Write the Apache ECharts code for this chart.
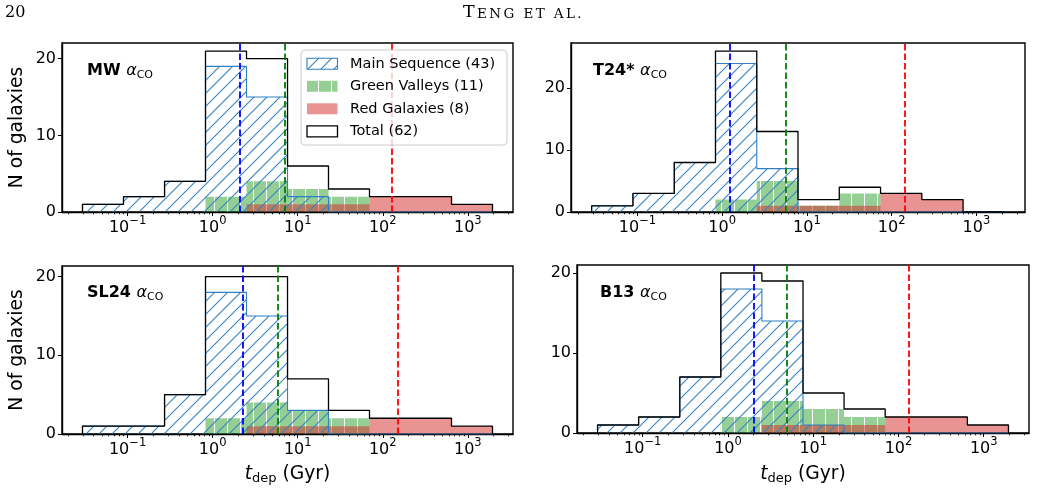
<!DOCTYPE html>
<html>
<head>
<meta charset="utf-8">
<script src="https://cdn.jsdelivr.net/npm/echarts@6/dist/echarts.min.js"></script>
<style>
  html, body { margin: 0; padding: 0; background: #fff; }
  #chart { width: 1040px; height: 495px; }
</style>
</head>
<body>
<div id="chart"></div>
<script>
// 各面板的分箱边界 (Gyr)
const edgesA = [0.0295, 0.0895, 0.272, 0.824, 2.50, 7.59, 23.0, 69.8, 212, 643, 1950];
const edgesT24 = [0.0288, 0.0885, 0.272, 0.834, 2.56, 7.85, 24.1, 74.0, 227, 697, 2140];

// 每个分箱的星系数
const mwTotal = [1, 2, 4, 21, 20, 6, 3, 2, 2, 1];
const mwMS    = [1, 2, 4, 19, 15, 2, 0, 0, 0, 0];
const mwGV    = [0, 0, 0, 2, 4, 3, 2, 0, 0, 0];
const mwRed   = [0, 0, 0, 0, 1, 1, 1, 2, 2, 1];

const t24Total = [1, 3, 8, 26, 13, 2, 4, 3, 2, 0];
const t24MS    = [1, 3, 8, 24, 7, 0, 0, 0, 0, 0];
const t24GV    = [0, 0, 0, 2, 5, 1, 3, 0, 0, 0];
const t24Red   = [0, 0, 0, 0, 1, 1, 1, 3, 2, 0];

const sl24Total = [1, 1, 5, 20, 20, 7, 3, 2, 2, 1];
const sl24MS    = [1, 1, 5, 18, 15, 3, 0, 0, 0, 0];
const sl24GV    = [0, 0, 0, 2, 4, 3, 2, 0, 0, 0];
const sl24Red   = [0, 0, 0, 0, 1, 1, 1, 2, 2, 1];

const b13Total = [1, 2, 7, 20, 19, 5, 3, 2, 2, 1];
const b13MS    = [1, 2, 7, 18, 14, 1, 0, 0, 0, 0];
const b13GV    = [0, 0, 0, 2, 4, 3, 2, 0, 0, 0];
const b13Red   = [0, 0, 0, 0, 1, 1, 1, 2, 2, 1];

// 中位数：主序 / 绿谷 / 红星系
const mwMed   = [2.1, 7.1, 129];
const t24Med  = [1.23, 5.7, 142];
const sl24Med = [2.24, 5.9, 149];
const b13Med  = [2.0, 4.9, 132];

const xMajor = [0.1, 1, 10, 100, 1000];
const yMajor = [0, 10, 20];
const legendNames = ['Main Sequence (43)', 'Green Valleys (11)', 'Red Galaxies (8)', 'Total (62)'];

const FONT = '"DejaVu Sans", sans-serif';
const SERIF = '"DejaVu Serif", serif';
const medColors = ['#0000ff', '#008000', '#ff0000'];

const panels = [
  { label: 'MW', edges: edgesA, total: mwTotal, ms: mwMS, gv: mwGV, red: mwRed, med: mwMed, ymax: 22.05,
    grid: { left: 62, top: 43, width: 451, height: 169 }, lx: 87, ly: 71 },
  { label: 'T24*', edges: edgesT24, total: t24Total, ms: t24MS, gv: t24GV, red: t24Red, med: t24Med, ymax: 27.3,
    grid: { left: 571, top: 43, width: 454, height: 169 }, lx: 593, ly: 71 },
  { label: 'SL24', edges: edgesA, total: sl24Total, ms: sl24MS, gv: sl24GV, red: sl24Red, med: sl24Med, ymax: 21.35,
    grid: { left: 62, top: 266, width: 451, height: 168 }, lx: 87, ly: 293 },
  { label: 'B13', edges: edgesA, total: b13Total, ms: b13MS, gv: b13GV, red: b13Red, med: b13Med, ymax: 21,
    grid: { left: 577, top: 265, width: 452, height: 168 }, lx: 600, ly: 293 }
];

// 斜线填充 (//)
function hatchTile() {
  const s = 13;
  const c = document.createElement('canvas');
  c.width = s; c.height = s;
  const ctx = c.getContext('2d');
  ctx.strokeStyle = '#3584c4';
  ctx.lineWidth = 1.1;
  ctx.beginPath();
  ctx.moveTo(-2, s + 2); ctx.lineTo(s + 2, -2);
  ctx.moveTo(-2, 2); ctx.lineTo(2, -2);
  ctx.moveTo(s - 2, s + 2); ctx.lineTo(s + 2, s - 2);
  ctx.stroke();
  return c;
}

// 绿色 + 白色竖线
function greenTile() {
  const w = 13, h = 4;
  const c = document.createElement('canvas');
  c.width = w; c.height = h;
  const ctx = c.getContext('2d');
  ctx.fillStyle = 'rgba(44,160,44,0.5)';
  ctx.fillRect(0, 0, w, h);
  ctx.clearRect(6, 0, 1, h);
  ctx.fillStyle = 'rgba(255,255,255,0.45)';
  ctx.fillRect(6, 0, 1, h);
  return c;
}

const hatch = { image: hatchTile(), repeat: 'repeat' };
const green = { image: greenTile(), repeat: 'repeat' };
const redFill = 'rgba(214,39,40,0.5)';

function stepData(edges, counts) {
  const d = [[edges[0], 0]];
  counts.forEach((c, i) => d.push([edges[i], c]));
  d.push([edges[edges.length - 1], counts[counts.length - 1]]);
  d.push([edges[edges.length - 1], 0]);
  return d;
}

function xlim(edges) {
  const lo = Math.log10(edges[0]);
  const hi = Math.log10(edges[edges.length - 1]);
  const m = (hi - lo) * 0.05;
  return [Math.pow(10, lo - m), Math.pow(10, hi + m)];
}

const minorTicks = [];
for (let e = -2; e <= 3; e++) {
  for (let k = 2; k <= 9; k++) minorTicks.push(k * Math.pow(10, e));
}

const grids = [], xAxes = [], yAxes = [], series = [], graphics = [];

panels.forEach((p, i) => {
  const [xmin, xmax] = xlim(p.edges);
  grids.push(Object.assign({ show: true, borderColor: '#000', borderWidth: 1.4, outerBoundsMode: 'none', containLabel: false }, p.grid));

  xAxes.push({
    type: 'log', logBase: 10, gridIndex: i, min: xmin, max: xmax, position: 'bottom', z: 3,
    axisLine: { show: true, onZero: false, lineStyle: { color: '#000', width: 1.4 } },
    axisTick: { show: true, length: 4, customValues: xMajor, lineStyle: { color: '#000', width: 1 } },
    axisLabel: {
      customValues: xMajor, margin: 3,
      formatter: v => {
        const e = Math.round(Math.log10(v));
        return '{b|10}{s|' + (e < 0 ? '\u2212' + (-e) : e) + '}';
      },
      rich: {
        b: { fontFamily: FONT, fontSize: 16, lineHeight: 26, color: '#000', verticalAlign: 'middle' },
        s: { fontFamily: FONT, fontSize: 11.5, lineHeight: 11, color: '#000', verticalAlign: 'top' }
      }
    },
    splitLine: { show: false }
  });
  xAxes.push({
    type: 'log', logBase: 10, gridIndex: i, min: xmin, max: xmax, position: 'bottom', z: 3,
    axisLine: { show: false },
    axisTick: { show: true, length: 2.3, customValues: minorTicks, lineStyle: { color: '#000', width: 0.9 } },
    axisLabel: { show: false },
    splitLine: { show: false }
  });
  yAxes.push({
    type: 'value', gridIndex: i, min: 0, max: p.ymax, z: 3,
    axisLine: { show: true, onZero: false, lineStyle: { color: '#000', width: 1.4 } },
    axisTick: { show: true, length: 4, customValues: yMajor, lineStyle: { color: '#000', width: 1 } },
    axisLabel: { customValues: yMajor, fontFamily: FONT, fontSize: 16, color: '#000', margin: 6 },
    splitLine: { show: false }
  });

  const base = { type: 'line', xAxisIndex: 2 * i, yAxisIndex: i, step: 'end', symbol: 'none', silent: true, animation: false };
  series.push(Object.assign({}, base, {
    name: 'gv' + i, data: stepData(p.edges, p.gv),
    lineStyle: { width: 0, opacity: 0 }, areaStyle: { color: green, opacity: 1 }
  }));
  series.push(Object.assign({}, base, {
    name: 'red' + i, data: stepData(p.edges, p.red),
    lineStyle: { width: 0, opacity: 0 }, areaStyle: { color: redFill, opacity: 1 }
  }));
  series.push(Object.assign({}, base, {
    name: 'ms' + i, data: stepData(p.edges, p.ms),
    lineStyle: { color: '#2f7fc1', width: 1.1 }, areaStyle: { color: hatch, opacity: 1 }
  }));
  series.push(Object.assign({}, base, {
    name: 'total' + i, data: stepData(p.edges, p.total),
    lineStyle: { color: '#000', width: 1.3 },
    markLine: {
      silent: true, symbol: ['none', 'none'], animation: false, label: { show: false },
      data: p.med.map((m, k) => ({ xAxis: m, lineStyle: { color: medColors[k], type: [6.5, 3], width: 1.8 } }))
    }
  }));

  // 面板标签
  graphics.push({
    type: 'text', z: 20,
    style: {
      x: p.lx, y: p.ly, verticalAlign: 'middle', align: 'left',
      text: '{b|' + p.label + ' }{a|\u03b1}{s|CO}',
      rich: {
        b: { fontFamily: FONT, fontSize: 16, fontWeight: 'bold', lineHeight: 20, fill: '#000', verticalAlign: 'middle' },
        a: { fontFamily: FONT, fontSize: 16, fontStyle: 'italic', lineHeight: 20, fill: '#000', verticalAlign: 'middle' },
        s: { fontFamily: FONT, fontSize: 11, lineHeight: 11, fill: '#000', verticalAlign: 'bottom' }
      }
    }
  });
});

// y 轴标题
[127.5, 350].forEach(cy => {
  graphics.push({
    type: 'text', x: 17, y: cy, rotation: Math.PI / 2, z: 20,
    style: { text: 'N of galaxies', fontFamily: FONT, fontSize: 18.7, fill: '#000', align: 'center', verticalAlign: 'middle' }
  });
});

// x 轴标题
[287.5, 803].forEach(cx => {
  graphics.push({
    type: 'text', z: 20,
    style: {
      x: cx, y: 474, align: 'center', verticalAlign: 'middle',
      text: '{t|t}{s|dep}{n| (Gyr)}',
      rich: {
        t: { fontFamily: FONT, fontSize: 18.7, fontStyle: 'italic', lineHeight: 22, fill: '#000', verticalAlign: 'middle' },
        s: { fontFamily: FONT, fontSize: 13, lineHeight: 13, fill: '#000', verticalAlign: 'bottom' },
        n: { fontFamily: FONT, fontSize: 18.7, lineHeight: 22, fill: '#000', verticalAlign: 'middle' }
      }
    }
  });
});

// 图例 (仅左上面板)
graphics.push({
  type: 'rect', z: 30,
  shape: { x: 301, y: 50, width: 206, height: 95, r: 4 },
  style: { fill: 'rgba(255,255,255,0.8)', stroke: '#cccccc', lineWidth: 1 }
});
const patchStyles = [
  { fill: hatch, stroke: '#2f7fc1', lineWidth: 1.1 },
  { fill: green },
  { fill: redFill },
  { fill: '#fff', stroke: '#000', lineWidth: 1.3 }
];
legendNames.forEach((name, k) => {
  const cy = 63.8 + k * 22.5;
  graphics.push({
    type: 'rect', z: 31,
    shape: { x: 307, y: cy - 5.5, width: 30.5, height: 11 },
    style: patchStyles[k]
  });
  graphics.push({
    type: 'text', z: 31,
    style: { x: 350, y: cy, text: name, fontFamily: FONT, fontSize: 14.5, fill: '#000', align: 'left', verticalAlign: 'middle' }
  });
});

// 页眉：页码与小型大写的作者名
graphics.push({
  type: 'text', z: 20,
  style: { x: 5, y: 12.5, text: '20', fontFamily: SERIF, fontSize: 16, fill: '#000', verticalAlign: 'middle' }
});
const headSmall = 'ENG ET AL.'.split('').map(ch => '{c|' + ch + '}').join('');
graphics.push({
  type: 'text', z: 20,
  style: {
    x: 463, y: 12.5, align: 'left', verticalAlign: 'middle',
    text: '{T|T}' + headSmall,
    rich: {
      T: { fontFamily: SERIF, fontSize: 17.5, lineHeight: 18, fill: '#000', verticalAlign: 'middle', padding: [0, 1.2, 0, 0] },
      c: { fontFamily: SERIF, fontSize: 13.5, lineHeight: 14, fill: '#000', verticalAlign: 'bottom', padding: [0, 1.2, 0, 1.2] }
    }
  }
});

const chart = echarts.init(document.getElementById('chart'), null, { renderer: 'canvas' });
chart.setOption({
  animation: false,
  backgroundColor: '#fff',
  grid: grids,
  xAxis: xAxes,
  yAxis: yAxes,
  series: series,
  graphic: { elements: graphics }
});
</script>
</body>
</html>
